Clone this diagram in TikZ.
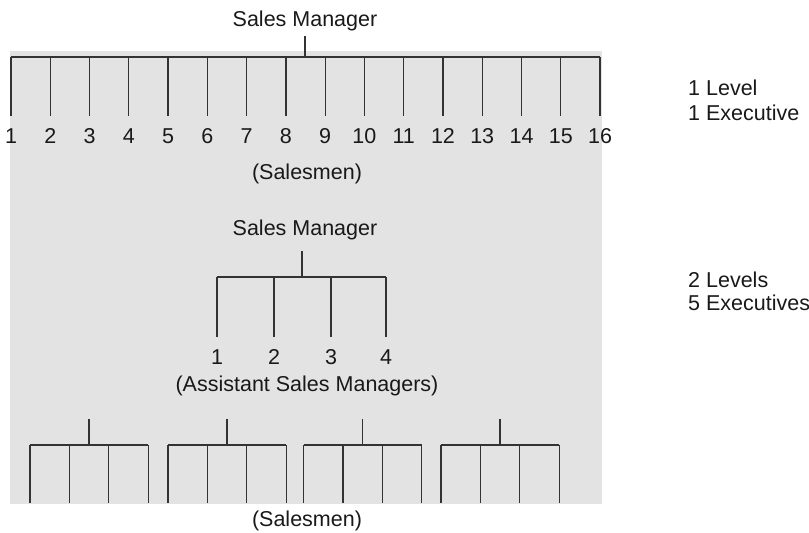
\documentclass[tikz,border=0pt]{standalone}
\usepackage{fontspec}
\setmainfont{Liberation Sans}
\begin{document}
\begin{tikzpicture}[x=1pt,y=-1pt,
  lbl/.style={inner sep=0pt, text=black!90, font=\fontsize{21.5}{25}\selectfont},
  rlbl/.style={lbl, anchor=west},
  ln/.style={line width=1.3pt, draw=black!80}]
\useasboundingbox (0,0) rectangle (809,533);
\fill[black!11] (10,51) rectangle (602,504);

% ---- 1 level ----
\node[lbl] (smA) at (305,21) {Sales Manager};
\coordinate (stA) at (305,36);
\coordinate (bA) at (305,57);
\draw[ln] (stA) -- (bA);
\foreach \i in {1,...,16} {
  \pgfmathsetmacro{\xx}{11+39.27*(\i-1)}
  \coordinate (s\i) at (\xx,57);
  \coordinate (e\i) at (\xx,116);
  \node[lbl] (n\i) at (\xx,136) {\i};
  \draw[ln] (s\i) -- (e\i);
}
\draw[ln] (s1) -- (s16);
\node[lbl] (salA) at (307,174) {(Salesmen)};

\node[rlbl] (lv1) at (688,88) {1 Level};
\node[rlbl] (ex1) at (688,113) {1 Executive};

% ---- 2 levels ----
\node[lbl] (smB) at (305,230) {Sales Manager};
\coordinate (stB) at (302,251);
\coordinate (bB) at (302,277);
\draw[ln] (stB) -- (bB);
\foreach \i/\xx in {1/217,2/274,3/331,4/386} {
  \coordinate (a\i) at (\xx,277);
  \coordinate (ae\i) at (\xx,337);
  \node[lbl] (an\i) at (\xx,357) {\i};
  \draw[ln] (a\i) -- (ae\i);
}
\draw[ln] (a1) -- (a4);
\node[lbl] (asm) at (307,386) {(Assistant Sales Managers)};

\foreach \g/\x in {1/30,2/168,3/303.5,4/441} {
  \pgfmathsetmacro{\cx}{\x+59}
  \coordinate (gt\g) at (\cx,419);
  \coordinate (gb\g) at (\cx,445);
  \draw[ln] (gt\g) -- (gb\g);
  \foreach \k in {0,...,3} {
    \pgfmathsetmacro{\lx}{\x+39.4*\k}
    \coordinate (gs\g\k) at (\lx,445);
    \coordinate (ge\g\k) at (\lx,503);
    \draw[ln] (gs\g\k) -- (ge\g\k);
  }
  \draw[ln] (gs\g0) -- (gs\g3);
}
\node[lbl] (salB) at (307,521) {(Salesmen)};

\node[rlbl] (lv2) at (688,280) {2 Levels};
\node[rlbl] (ex2) at (688,303) {5 Executives};
\end{tikzpicture}
\end{document}
